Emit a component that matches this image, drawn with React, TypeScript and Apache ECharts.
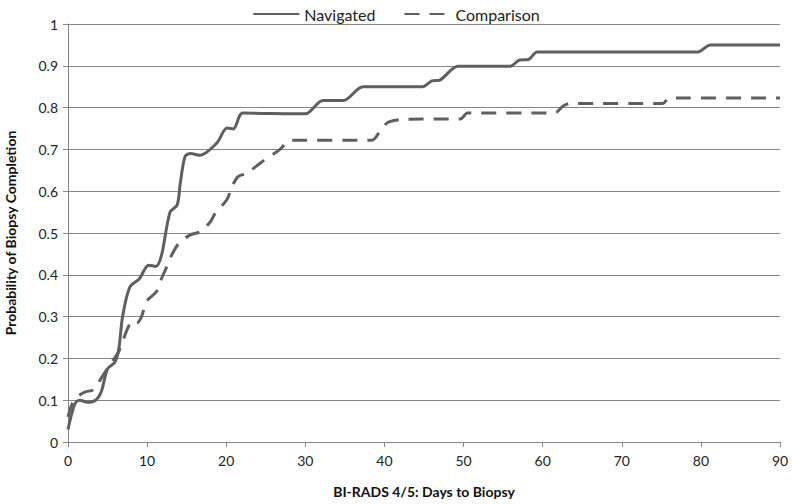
import React, { useEffect, useRef } from "react";
import * as echarts from "echarts";

const navDays = [0, 0.5, 1, 1.5, 2.5, 3.5, 4.2, 5, 5.9, 6.4, 6.9, 7.8, 9, 10.2, 11.1, 11.8, 12.9, 13.8, 14.2, 14.8, 15.5, 16.7, 18.8, 20.1, 20.9, 22.1, 30, 32.2, 34.8, 37.3, 44.8, 46, 47, 49.3, 55.9, 57.1, 58.2, 59.3, 79.6, 81.2, 90];
const navValues = [0.03, 0.07, 0.095, 0.1, 0.095, 0.1, 0.12, 0.175, 0.19, 0.22, 0.3, 0.37, 0.39, 0.423, 0.42, 0.445, 0.55, 0.567, 0.62, 0.683, 0.69, 0.686, 0.715, 0.751, 0.749, 0.787, 0.785, 0.817, 0.817, 0.85, 0.85, 0.864, 0.866, 0.899, 0.899, 0.914, 0.915, 0.933, 0.933, 0.95, 0.95];

const cmpDays = [0, 0.5, 1.3, 2.2, 3.2, 4.3, 5.5, 6.5, 7.5, 8.2, 8.7, 9.3, 9.9, 11.2, 11.8, 12.5, 13.1, 14, 15.4, 16.7, 18, 18.6, 20.1, 20.7, 21.5, 22.6, 24.5, 26.8, 28.1, 38.4, 39.5, 40.5, 42.8, 49.6, 50.5, 61.5, 62.6, 63.5, 75.2, 76, 90];
const cmpValues = [0.06, 0.09, 0.11, 0.12, 0.125, 0.156, 0.19, 0.22, 0.27, 0.29, 0.285, 0.3, 0.336, 0.36, 0.39, 0.42, 0.447, 0.475, 0.495, 0.503, 0.527, 0.547, 0.58, 0.61, 0.635, 0.643, 0.67, 0.7, 0.722, 0.722, 0.745, 0.765, 0.772, 0.773, 0.787, 0.787, 0.804, 0.81, 0.81, 0.823, 0.823];

const seriesNames = ["Navigated", "Comparison"];
const xTitle = "BI-RADS 4/5: Days to Biopsy";
const yTitle = "Probability of Biopsy Completion";

const FONT = "Lato, 'Open Sans', sans-serif";
const LINE = "#5f5f5f";

export default function App() {
  const ref = useRef<HTMLDivElement>(null);
  useEffect(() => {
    if (!ref.current) return;
    const chart = echarts.init(ref.current, null, { renderer: "svg" });
    const nav = navDays.map((d, i) => [d, navValues[i]]);
    const cmp = cmpDays.map((d, i) => [d, cmpValues[i]]);
    chart.setOption({
      animation: false,
      backgroundColor: "#ffffff",
      textStyle: { fontFamily: FONT },
      legend: {
        top: 1,
        left: "center",
        itemWidth: 46,
        itemHeight: 10,
        itemGap: 28,
        itemStyle: { opacity: 0 },
        textStyle: { fontSize: 16, color: "#222", fontFamily: FONT },
        data: seriesNames,
      },
      grid: { left: 68, right: 12, top: 24, bottom: 62, containLabel: false, outerBoundsMode: "none" },
      xAxis: {
        type: "value",
        min: 0,
        max: 90,
        interval: 10,
        name: xTitle,
        nameLocation: "middle",
        nameGap: 42,
        nameTextStyle: { fontSize: 14, fontWeight: "bold", color: "#111", fontFamily: FONT },
        axisLine: { show: true, lineStyle: { color: "#868686", width: 1 } },
        axisTick: { show: true, length: 5, lineStyle: { color: "#868686" } },
        axisLabel: { fontSize: 14, color: "#222", margin: 11, fontFamily: FONT },
        splitLine: { show: false },
      },
      yAxis: {
        type: "value",
        min: 0,
        max: 1,
        interval: 0.1,
        name: yTitle,
        nameLocation: "middle",
        nameGap: 51,
        nameRotate: 90,
        nameTextStyle: { fontSize: 14, fontWeight: "bold", color: "#111", fontFamily: FONT },
        axisLine: { show: true, lineStyle: { color: "#868686", width: 1 } },
        axisTick: { show: true, length: 5, lineStyle: { color: "#868686" } },
        axisLabel: { fontSize: 14, color: "#222", margin: 10, fontFamily: FONT },
        splitLine: { show: true, lineStyle: { color: "#868686", width: 1 } },
      },
      series: [
        {
          name: seriesNames[0],
          type: "line",
          data: nav,
          smooth: 0.3,
          symbol: "none",
          lineStyle: { color: LINE, width: 3 },
          itemStyle: { color: LINE },
        },
        {
          name: seriesNames[1],
          type: "line",
          data: cmp,
          smooth: 0.3,
          symbol: "none",
          lineStyle: { color: LINE, width: 3, type: [15, 10] },
          itemStyle: { color: LINE },
        },
      ],
    });
    return () => chart.dispose();
  }, []);
  return (
    <div
      ref={ref}
      style={{ position: "fixed", left: 0, top: 0, width: 792, height: 504 }}
    />
  );
}
